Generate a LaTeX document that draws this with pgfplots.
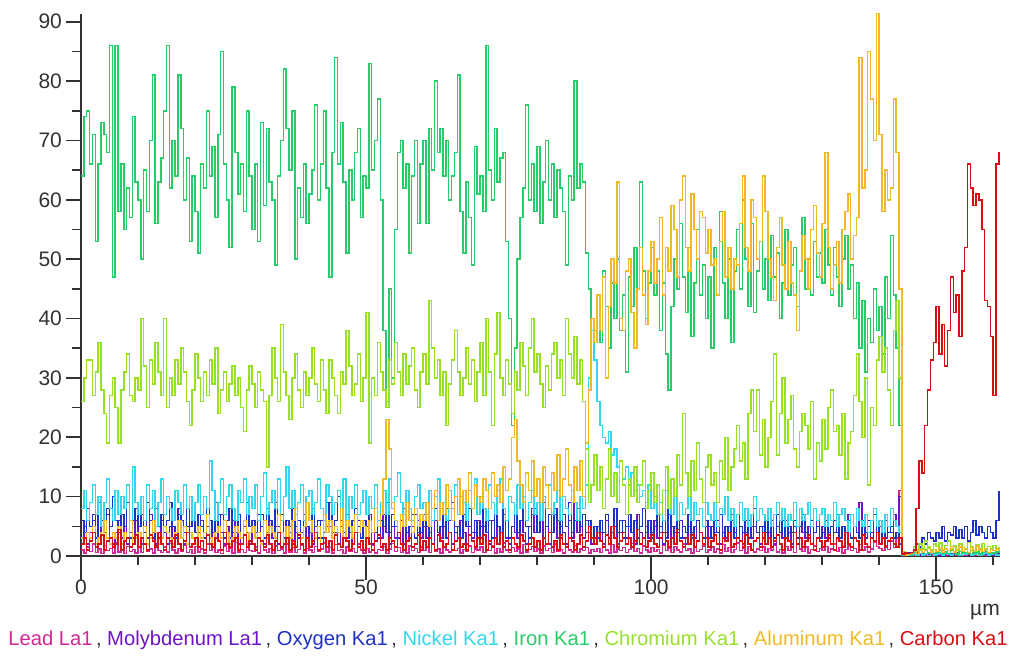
\documentclass[border=0pt]{standalone}
\usepackage{fontspec}
\setmainfont{Liberation Sans}
\usepackage{pgfplots}
\pgfplotsset{compat=1.18}
\usepackage{pgfplotstable}
\definecolor{cPb}{RGB}{210,40,150}
\definecolor{cMo}{RGB}{110,20,200}
\definecolor{cO}{RGB}{30,50,200}
\definecolor{cNi}{RGB}{50,215,235}
\definecolor{cFe}{RGB}{40,205,105}
\definecolor{cCr}{RGB}{150,225,40}
\definecolor{cAl}{RGB}{240,185,40}
\definecolor{cC}{RGB}{215,15,20}
\definecolor{axgray}{RGB}{50,50,50}

\pgfplotstableread[row sep=\\, header=false]{
64\\74\\75\\66\\71\\53\\66\\73\\71\\68\\86\\47\\86\\58\\66\\55\\62\\57\\74\\63\\
60\\50\\65\\58\\70\\81\\56\\63\\67\\75\\86\\62\\70\\64\\81\\72\\60\\67\\53\\64\\
58\\51\\66\\62\\75\\64\\69\\57\\71\\85\\66\\60\\52\\79\\68\\61\\66\\58\\75\\64\\
55\\66\\53\\73\\59\\72\\63\\60\\49\\64\\70\\82\\72\\65\\75\\50\\62\\57\\66\\56\\
61\\65\\76\\60\\66\\75\\62\\47\\68\\84\\66\\73\\63\\51\\65\\60\\68\\72\\57\\64\\
62\\83\\65\\70\\77\\60\\38\\26\\45\\30\\55\\68\\70\\62\\66\\51\\64\\70\\56\\66\\
70\\56\\72\\65\\80\\68\\72\\64\\70\\60\\64\\68\\81\\58\\51\\63\\57\\49\\69\\61\\
64\\58\\86\\65\\60\\72\\63\\67\\68\\53\\40\\22\\35\\50\\57\\62\\76\\60\\66\\58\\
69\\56\\63\\70\\60\\66\\57\\65\\62\\58\\49\\64\\60\\80\\62\\66\\63\\51\\45\\40\\
38\\44\\36\\48\\42\\35\\46\\40\\50\\38\\44\\31\\47\\42\\52\\45\\63\\48\\40\\46\\
52\\44\\48\\38\\46\\34\\28\\42\\50\\45\\56\\47\\41\\52\\37\\46\\55\\44\\49\\40\\
47\\35\\52\\44\\58\\46\\40\\50\\36\\48\\55\\45\\60\\50\\42\\56\\41\\48\\53\\45\\
50\\43\\54\\47\\51\\40\\46\\55\\44\\49\\52\\42\\48\\57\\45\\50\\44\\53\\47\\51\\
46\\55\\49\\44\\52\\47\\42\\50\\54\\45\\49\\40\\46\\35\\43\\31\\40\\36\\45\\38\\
42\\34\\47\\40\\54\\44\\35\\22\\0.5\\0.3\\0.4\\0.2\\0.5\\0.8\\1.2\\0.6\\1\\0.5\\0.8\\0.4\\
0.6\\1\\0.5\\0.7\\0.4\\0.9\\0.5\\0.3\\0.8\\0.5\\0.6\\0.4\\0.9\\0.5\\0.7\\0.3\\0.6\\0.8\\0.4\\0.6\\
0.5\\0.7\\0.5\\
}\dFe

\pgfplotstableread[row sep=\\, header=false]{
26\\30\\33\\33\\27\\31\\36\\28\\24\\19\\27\\30\\25\\19\\28\\31\\34\\27\\26\\30\\
28\\40\\32\\25\\33\\29\\36\\31\\27\\40\\25\\30\\27\\33\\29\\35\\31\\26\\22\\28\\
34\\30\\26\\31\\27\\33\\29\\35\\24\\28\\31\\26\\29\\32\\27\\30\\25\\21\\28\\32\\
29\\25\\31\\28\\26\\15\\27\\35\\30\\26\\39\\31\\27\\23\\30\\34\\28\\25\\31\\27\\
30\\35\\29\\26\\33\\28\\24\\33\\30\\27\\24\\31\\29\\38\\32\\27\\29\\34\\26\\30\\
41\\19\\30\\27\\36\\31\\28\\25\\33\\29\\36\\31\\27\\34\\29\\32\\35\\28\\25\\31\\
34\\29\\43\\35\\30\\33\\27\\31\\22\\29\\33\\38\\31\\27\\30\\35\\29\\33\\26\\31\\
36\\27\\40\\31\\22\\34\\41\\30\\27\\33\\29\\24\\31\\28\\36\\32\\27\\35\\40\\31\\
34\\29\\25\\32\\28\\34\\36\\30\\33\\27\\40\\34\\30\\37\\29\\33\\26\\18\\9\\12\\
17\\11\\15\\8\\13\\18\\10\\14\\9\\16\\12\\7\\13\\10\\15\\9\\12\\16\\8\\11\\
14\\9\\12\\7\\11\\15\\8\\13\\10\\17\\12\\24\\14\\10\\16\\11\\19\\13\\9\\15\\
17\\12\\14\\9\\16\\13\\20\\11\\15\\18\\22\\16\\19\\13\\24\\28\\21\\28\\17\\23\\
15\\20\\26\\34\\17\\24\\30\\19\\23\\27\\18\\15\\21\\24\\22\\18\\26\\13\\19\\16\\
23\\18\\25\\28\\21\\22\\17\\24\\13\\19\\21\\27\\34\\26\\20\\30\\12\\25\\22\\33\\
37\\31\\35\\28\\22\\38\\43\\30\\0.8\\0.5\\0.3\\0.6\\1.5\\1\\2\\1.2\\2.5\\1.5\\1\\2\\
1.6\\2.2\\1\\1.8\\2.5\\1.2\\1.7\\0.9\\2\\1.4\\1.1\\2.3\\1.5\\0.8\\1.9\\1.3\\2.1\\1\\1.6\\1.2\\
1.8\\1.1\\1.5\\
}\dCr

\pgfplotstableread[row sep=\\, header=false]{
3\\2\\4\\3\\5\\2\\3\\4\\6\\3\\2\\4\\3\\5\\2\\4\\3\\6\\2\\3\\
4\\3\\5\\2\\3\\6\\4\\2\\3\\5\\4\\3\\2\\4\\6\\3\\5\\2\\4\\3\\
2\\5\\3\\4\\7\\3\\2\\4\\5\\3\\6\\4\\2\\3\\5\\4\\3\\6\\2\\4\\
5\\3\\4\\2\\6\\3\\5\\4\\3\\7\\4\\2\\5\\3\\6\\8\\4\\3\\5\\9\\
6\\4\\3\\5\\2\\7\\4\\6\\3\\5\\4\\8\\3\\6\\5\\3\\7\\4\\6\\5\\
3\\6\\4\\8\\5\\7\\13\\23\\18\\9\\6\\4\\7\\5\\9\\6\\4\\8\\5\\7\\
6\\9\\5\\8\\11\\6\\9\\7\\12\\8\\6\\10\\13\\7\\11\\9\\14\\8\\12\\10\\
9\\13\\11\\8\\14\\10\\12\\9\\15\\11\\13\\20\\23\\16\\12\\9\\14\\11\\16\\10\\
13\\9\\15\\12\\8\\14\\11\\17\\10\\13\\18\\12\\9\\15\\11\\16\\10\\19\\28\\40\\
36\\44\\38\\47\\30\\42\\50\\46\\63\\40\\38\\48\\50\\41\\35\\45\\52\\44\\39\\48\\
53\\46\\50\\57\\44\\52\\48\\59\\55\\47\\60\\64\\52\\48\\61\\55\\50\\58\\57\\51\\
55\\49\\50\\44\\53\\58\\47\\52\\45\\50\\49\\56\\64\\52\\48\\60\\57\\50\\53\\64\\
58\\50\\47\\43\\52\\57\\49\\45\\53\\46\\44\\38\\48\\54\\50\\45\\55\\59\\51\\47\\
56\\68\\52\\45\\49\\53\\46\\55\\58\\61\\50\\54\\57\\84\\62\\65\\85\\77\\70\\91.5\\
71\\58\\65\\60\\62\\77\\68\\45\\0.4\\0.2\\0.3\\0.5\\0.8\\0.4\\1\\0.6\\0.9\\1.3\\0.7\\1.1\\
0.8\\1.4\\0.6\\1.2\\0.9\\1.6\\0.7\\1.1\\1.5\\0.8\\1.2\\0.6\\1.4\\0.9\\1.7\\1\\0.8\\1.3\\0.6\\1.1\\
0.9\\1.3\\0.8\\
}\dAl

\pgfplotstableread[row sep=\\, header=false]{
8\\11\\6\\9\\12\\7\\10\\5\\9\\13\\8\\6\\11\\7\\10\\8\\12\\6\\15\\9\\
7\\10\\6\\12\\8\\11\\5\\9\\13\\7\\10\\8\\6\\11\\9\\7\\12\\8\\10\\6\\
9\\12\\7\\10\\8\\16\\11\\6\\9\\13\\7\\10\\12\\8\\6\\11\\9\\13\\7\\10\\
8\\12\\6\\10\\14\\7\\9\\11\\8\\13\\6\\10\\15\\8\\11\\7\\9\\12\\6\\10\\
11\\7\\9\\13\\8\\6\\12\\10\\7\\9\\11\\8\\13\\6\\10\\8\\12\\7\\9\\11\\
7\\10\\8\\12\\6\\9\\11\\7\\13\\8\\10\\14\\9\\7\\11\\8\\6\\10\\12\\8\\
9\\7\\11\\6\\10\\13\\8\\9\\6\\11\\8\\12\\7\\10\\9\\6\\11\\8\\13\\7\\
10\\8\\6\\12\\9\\7\\11\\13\\8\\6\\10\\9\\7\\12\\8\\10\\6\\9\\11\\7\\
9\\6\\10\\8\\12\\7\\9\\11\\6\\10\\8\\7\\11\\9\\6\\10\\8\\12\\30\\38\\
33\\26\\22\\20\\19\\21\\17\\18\\15\\16\\13\\15\\12\\14\\11\\12\\10\\11\\9\\12\\
8\\10\\7\\9\\6\\11\\8\\7\\10\\6\\9\\7\\8\\10\\6\\9\\7\\8\\5\\9\\
7\\6\\9\\5\\8\\7\\10\\6\\8\\5\\7\\9\\6\\8\\5\\7\\10\\6\\8\\7\\
6\\8\\5\\7\\9\\6\\8\\5\\7\\6\\9\\5\\8\\6\\7\\9\\5\\8\\6\\7\\
8\\5\\7\\6\\9\\5\\7\\8\\6\\4\\7\\5\\8\\6\\5\\7\\4\\6\\8\\5\\
6\\4\\7\\5\\8\\6\\5\\4\\0.2\\0.1\\0.2\\0.1\\0.3\\0.2\\0.4\\0.2\\0.3\\0.1\\0.4\\0.2\\
0.3\\0.5\\0.2\\0.4\\0.3\\0.2\\0.5\\0.3\\0.2\\0.4\\0.3\\0.5\\0.2\\0.3\\0.4\\0.2\\0.3\\0.5\\0.2\\0.3\\
0.4\\0.2\\0.3\\
}\dNi

\pgfplotstableread[row sep=\\, header=false]{
6\\4\\8\\5\\7\\3\\9\\6\\4\\8\\5\\10\\6\\4\\7\\5\\9\\3\\6\\8\\
5\\7\\4\\9\\6\\3\\8\\5\\7\\4\\6\\9\\5\\3\\7\\6\\4\\8\\5\\6\\
4\\7\\5\\3\\8\\6\\4\\9\\5\\7\\3\\6\\8\\4\\5\\7\\3\\6\\9\\5\\
6\\4\\7\\5\\3\\8\\6\\4\\9\\5\\7\\3\\6\\5\\8\\4\\6\\3\\7\\5\\
4\\8\\5\\6\\3\\7\\5\\9\\4\\6\\10\\5\\3\\7\\4\\6\\8\\5\\3\\6\\
5\\7\\4\\8\\3\\6\\5\\9\\4\\7\\5\\3\\6\\8\\4\\5\\7\\3\\6\\4\\
7\\5\\3\\6\\8\\4\\5\\7\\3\\6\\9\\4\\5\\3\\7\\5\\8\\4\\6\\3\\
5\\8\\4\\6\\3\\7\\5\\4\\8\\6\\3\\5\\7\\4\\6\\9\\5\\3\\7\\8\\
4\\6\\9\\5\\7\\4\\8\\6\\3\\7\\5\\9\\4\\6\\8\\5\\7\\4\\6\\3\\
5\\3\\6\\4\\7\\3\\5\\8\\4\\6\\3\\5\\7\\4\\6\\3\\5\\8\\4\\6\\
3\\5\\7\\4\\6\\3\\8\\5\\4\\6\\3\\5\\4\\7\\3\\5\\6\\4\\3\\6\\
5\\3\\6\\4\\7\\3\\5\\4\\6\\3\\7\\5\\4\\6\\3\\5\\8\\4\\5\\3\\
6\\4\\5\\3\\7\\4\\6\\3\\5\\4\\6\\3\\5\\7\\4\\3\\6\\4\\5\\3\\
4\\6\\3\\5\\4\\7\\3\\5\\4\\6\\3\\5\\4\\3\\6\\4\\5\\3\\7\\4\\
5\\3\\6\\4\\5\\3\\4\\2\\0.5\\0.3\\0.6\\0.4\\1\\2\\1.5\\3\\2\\4\\3\\2.5\\
4\\3\\5\\2.5\\4\\3.5\\5\\3\\4.5\\3\\5\\2.5\\4\\6\\3.5\\5\\4\\3\\5\\4\\
3\\6\\11\\
}\dO

\pgfplotstableread[row sep=\\, header=false]{
3\\5\\2\\4\\6\\3\\2\\5\\4\\7\\3\\2\\4\\6\\3\\5\\2\\4\\3\\6\\
4\\2\\5\\3\\7\\4\\2\\3\\6\\4\\2\\5\\3\\4\\8\\3\\2\\5\\4\\3\\
2\\4\\6\\3\\5\\2\\4\\3\\7\\4\\2\\5\\3\\6\\4\\2\\3\\5\\4\\2\\
5\\3\\4\\7\\2\\4\\6\\3\\5\\2\\4\\3\\6\\4\\2\\5\\3\\4\\7\\3\\
4\\2\\5\\3\\6\\4\\9\\5\\3\\4\\2\\6\\4\\3\\5\\2\\4\\6\\3\\5\\
3\\6\\2\\4\\5\\3\\7\\4\\2\\5\\3\\4\\6\\2\\4\\3\\5\\7\\4\\3\\
5\\3\\4\\2\\6\\4\\3\\5\\8\\4\\2\\5\\3\\6\\4\\2\\5\\3\\4\\6\\
3\\5\\4\\2\\6\\3\\5\\4\\7\\3\\2\\5\\4\\3\\6\\4\\2\\5\\8\\4\\
4\\6\\3\\5\\2\\4\\7\\3\\5\\4\\2\\6\\3\\9\\4\\5\\3\\6\\4\\2\\
3\\5\\4\\2\\6\\3\\4\\5\\2\\4\\6\\3\\5\\4\\2\\7\\4\\3\\5\\3\\
4\\6\\3\\5\\2\\4\\7\\3\\5\\4\\6\\3\\2\\5\\4\\3\\6\\4\\2\\5\\
3\\5\\4\\6\\2\\4\\3\\5\\7\\4\\3\\5\\2\\4\\6\\3\\5\\4\\2\\5\\
4\\3\\6\\2\\5\\4\\3\\6\\4\\2\\5\\3\\8\\4\\3\\5\\2\\4\\6\\3\\
5\\3\\4\\2\\6\\4\\3\\5\\4\\7\\3\\5\\4\\9\\5\\3\\6\\4\\8\\5\\
6\\4\\3\\5\\4\\7\\5\\10\\0.3\\0.2\\0.4\\0.1\\0.3\\0.5\\0.2\\0.4\\0.3\\0.2\\0.5\\0.3\\
0.4\\0.2\\0.3\\0.5\\0.2\\0.4\\0.3\\0.6\\0.2\\0.4\\0.3\\0.5\\0.2\\0.3\\0.4\\0.2\\0.5\\0.3\\0.4\\0.2\\
0.3\\0.4\\0.3\\
}\dMo

\pgfplotstableread[row sep=\\, header=false]{
1\\0.5\\1.5\\0.8\\2\\0.6\\1.2\\0.4\\1.8\\0.9\\1.3\\0.5\\2.2\\0.7\\1\\0.4\\1.6\\0.8\\1.1\\0.5\\
1.4\\0.6\\1.9\\0.8\\1.2\\0.5\\1.7\\0.9\\0.6\\1.5\\0.7\\2.1\\1\\0.5\\1.3\\0.8\\1.8\\0.6\\1.1\\0.4\\
1.6\\0.7\\1.2\\0.5\\2\\0.9\\1.4\\0.6\\1\\0.4\\1.7\\0.8\\1.3\\0.5\\2.3\\0.7\\1.1\\0.6\\1.5\\0.9\\
0.8\\1.5\\0.5\\1.9\\1\\0.6\\1.3\\0.4\\1.7\\0.9\\1.2\\0.5\\2\\0.7\\1.4\\0.6\\1.1\\1.8\\0.5\\1.3\\
1\\0.6\\1.6\\0.8\\1.2\\2.2\\0.7\\1.4\\0.5\\1.9\\0.9\\1.1\\0.4\\1.5\\0.8\\1.3\\0.6\\2\\1\\0.5\\
1.3\\0.7\\1.8\\0.5\\1.1\\0.9\\1.6\\0.4\\1.2\\2.1\\0.8\\1.4\\0.6\\1\\0.5\\1.7\\0.9\\1.3\\0.6\\1.5\\
0.9\\1.4\\0.6\\1.9\\0.8\\1.2\\0.5\\1.6\\1\\0.7\\2\\0.9\\1.3\\0.5\\1.1\\0.8\\1.7\\0.6\\1.2\\1\\
1.5\\0.6\\1.1\\0.9\\1.8\\0.5\\1.3\\0.7\\2.2\\1\\0.6\\1.4\\0.8\\1.2\\0.5\\1.9\\0.7\\1.1\\1.6\\0.8\\
1.2\\0.5\\1.7\\0.9\\1.3\\0.6\\2\\0.8\\1.1\\0.5\\1.5\\1\\0.7\\1.8\\0.6\\1.2\\0.9\\1.4\\0.5\\1.1\\
0.8\\1.3\\0.6\\1.6\\1\\0.5\\1.9\\0.7\\1.2\\0.9\\1.4\\0.6\\1.1\\2.1\\0.8\\1.3\\0.5\\1.7\\1\\0.7\\
1.4\\0.8\\1.1\\0.5\\1.8\\0.9\\1.3\\0.6\\1.6\\1\\0.7\\2\\0.9\\1.2\\0.5\\1.5\\0.8\\1.1\\1.7\\0.6\\
1\\1.5\\0.7\\1.2\\0.5\\1.9\\0.8\\1.4\\0.6\\1.1\\2.2\\0.9\\1.3\\0.5\\1.6\\1\\0.7\\1.2\\0.9\\1.5\\
0.6\\1.3\\1\\1.8\\0.7\\1.1\\0.5\\1.6\\0.9\\1.4\\0.6\\2\\1.2\\0.8\\1.5\\0.5\\1.1\\1.7\\0.8\\1.3\\
0.9\\1.6\\0.6\\1.2\\2\\0.8\\1.4\\0.5\\1.1\\1.7\\0.9\\1.3\\0.6\\1.9\\1\\1.5\\0.7\\1.2\\2.4\\1.6\\
1.3\\0.9\\1.8\\1.1\\2.5\\1.4\\3\\11\\0.2\\0.1\\0.2\\0.1\\0.2\\0.3\\0.1\\0.2\\0.1\\0.3\\0.2\\0.1\\
0.2\\0.1\\0.3\\0.2\\0.1\\0.2\\0.3\\0.1\\0.2\\0.1\\0.2\\0.3\\0.1\\0.2\\0.1\\0.3\\0.2\\0.1\\0.2\\0.1\\
0.2\\0.1\\0.2\\
}\dPb

\pgfplotstableread[row sep=\\, header=false]{
2\\3\\1\\2.5\\4\\1.5\\2\\3.5\\1\\2.5\\3\\1.5\\2\\4.5\\1\\2.5\\3\\1.5\\2\\3.5\\
1.5\\3\\2\\1\\3.5\\2.5\\1.5\\4\\2\\1\\3\\2.5\\1.5\\3.5\\2\\1\\2.5\\4\\1.5\\2\\
3\\1.5\\2.5\\1\\3.5\\2\\1.5\\3\\2.5\\1\\4\\2\\1.5\\2.5\\3\\1\\2\\3.5\\1.5\\2.5\\
2\\1\\3\\2.5\\1.5\\3.5\\2\\1\\2.5\\4\\1.5\\2\\3\\1\\2.5\\1.5\\3.5\\2\\1\\3\\
1.5\\2.5\\4\\1\\2\\3\\1.5\\2.5\\1\\3.5\\2\\1.5\\3\\2.5\\1\\2\\4\\1.5\\2.5\\1\\
3\\2\\1\\2.5\\3.5\\1.5\\2\\1\\3\\2.5\\1.5\\4\\2\\1\\2.5\\3\\1.5\\2\\3.5\\1\\
2.5\\1.5\\3\\2\\1\\3.5\\2.5\\1.5\\2\\4\\1\\2.5\\3\\1.5\\2\\1\\3.5\\2.5\\1.5\\3\\
2\\3.5\\1\\2.5\\1.5\\3\\2\\4\\1.5\\2.5\\1\\3\\2\\1.5\\3.5\\2.5\\1\\2\\3\\1.5\\
2.5\\1\\3\\2\\4\\1.5\\2.5\\1\\3.5\\2\\1.5\\3\\2.5\\1\\2\\3.5\\1.5\\2.5\\5\\3\\
2\\4\\2.5\\1.5\\3.5\\2\\5\\3\\1.5\\2.5\\4\\2\\3\\1.5\\2.5\\4.5\\2\\3\\1.5\\2.5\\
3.5\\2\\1.5\\3\\4\\2.5\\1.5\\3\\2\\4.5\\2.5\\1.5\\3\\2\\3.5\\1.5\\2.5\\4\\2\\3\\
1.5\\2.5\\3.5\\2\\1\\3\\2.5\\4\\1.5\\2\\3\\2.5\\1.5\\3.5\\2\\1\\2.5\\3\\1.5\\4\\
2\\3\\1.5\\2.5\\3.5\\2\\1\\3\\2.5\\1.5\\4\\2\\3\\1.5\\2.5\\3.5\\2\\1\\3\\2.5\\
1.5\\2.5\\3.5\\2\\1\\3\\2.5\\1.5\\4\\2\\1.5\\3\\2.5\\1\\3.5\\2\\1.5\\3\\2.5\\4\\
2\\3\\1.5\\2.5\\3\\2\\1.5\\3\\0.3\\0.5\\0.4\\0.6\\1\\8\\16\\14\\22\\28\\33\\36\\
42\\34\\39\\32\\38\\47\\41\\44\\37\\48\\52\\66\\62\\59\\61\\60\\55\\43\\42\\37\\
27\\66\\68\\
}\dC

\begin{document}
\begin{tikzpicture}
\useasboundingbox (-40.5pt,-49.5pt) rectangle (474.5pt,278pt);
\begin{axis}[
  at={(0pt,0pt)}, anchor=south west,
  scale only axis, width=459.5pt, height=271pt,
  xmin=0, xmax=161.2, ymin=0, ymax=91.3,
  axis x line*=bottom, axis y line*=left,
  axis line style={-, line width=1pt, draw=axgray},
  tick align=outside,
  xtick={0,50,100,150},
  minor xtick={10,20,30,40,60,70,80,90,110,120,130,140,160},
  ytick={0,10,...,90}, minor ytick={5,15,...,85},
  major tick length=7.5pt, minor tick length=4.5pt,
  tick style={draw=axgray, line width=0.8pt},
  xtick style={/pgfplots/major tick length=12pt},
  /pgf/number format/assume math mode=true,
  tick label style={font=\fontsize{10.5}{12}\selectfont, text=axgray},
  yticklabel style={xshift=1.5pt},
  xticklabel style={yshift=-1pt},
  every axis plot/.append style={const plot, line width=0.75pt},
]
\addplot[cPb] table[x expr=\coordindex*0.5, y index=0] {\dPb};
\addplot[cMo] table[x expr=\coordindex*0.5, y index=0] {\dMo};
\addplot[cO] table[x expr=\coordindex*0.5, y index=0] {\dO};
\addplot[cNi] table[x expr=\coordindex*0.5, y index=0] {\dNi};
\addplot[cFe] table[x expr=\coordindex*0.5, y index=0] {\dFe};
\addplot[cCr] table[x expr=\coordindex*0.5, y index=0] {\dCr};
\addplot[cAl] table[x expr=\coordindex*0.5, y index=0] {\dAl};
\addplot[cC] table[x expr=\coordindex*0.5, y index=0] {\dC};
\end{axis}
\node[font=\fontsize{10.5}{12}\selectfont, text=axgray] at (452pt,-28pt) {µm};
\node[anchor=base west, inner sep=0pt, font=\fontsize{10.1}{12}\selectfont] at (-36.5pt,-44.5pt)
 {\textcolor{cPb}{Lead La1}\textcolor{axgray}{\,, }\textcolor{cMo}{Molybdenum La1}\textcolor{axgray}{\,, }\textcolor{cO}{Oxygen Ka1}\textcolor{axgray}{\,, }\textcolor{cNi}{Nickel Ka1}\textcolor{axgray}{\,, }\textcolor{cFe}{Iron Ka1}\textcolor{axgray}{\,, }\textcolor{cCr}{Chromium Ka1}\textcolor{axgray}{\,, }\textcolor{cAl}{Aluminum Ka1}\textcolor{axgray}{\,, }\textcolor{cC}{Carbon Ka1}};
\end{tikzpicture}
\end{document}
